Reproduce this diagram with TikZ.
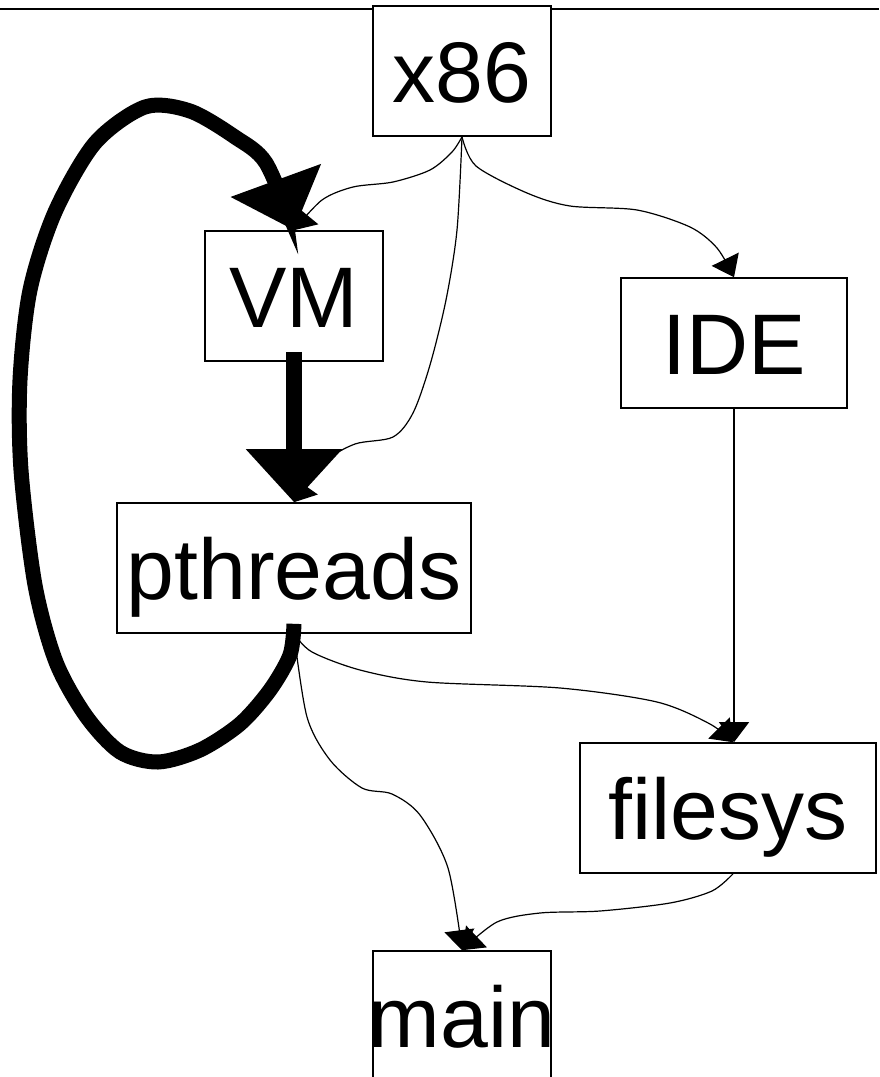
\documentclass[tikz,border=0pt]{standalone}
\usepackage{fontspec}
\setmainfont{Liberation Sans}
\usetikzlibrary{arrows.meta}
\begin{document}
\begin{tikzpicture}[x=1pt,y=-1pt,
  box/.style={draw, line width=1.6pt, fill=white, rectangle, inner sep=0pt,
    minimum height=130pt, text height=62pt, text depth=0pt,
    font=\fontsize{86}{90}\selectfont},
  edge/.style={line width=1.2pt, -{Triangle[length=20pt,width=30pt]}},
  heavyedge/.style={line width=16pt, -{Triangle[length=53pt,width=93pt]}}]
\useasboundingbox (0,0) rectangle (879,1077);
\clip (0,0) rectangle (879,1077);
\draw[line width=2pt] (0,9) -- (879,9);
\node[box, minimum width=178pt] (x86) at (462,71) {x86};
\node[box, minimum width=178pt] (VM) at (294,296) {VM};
\node[box, minimum width=226pt] (IDE) at (734,343) {IDE};
\node[box, minimum width=354pt] (pthreads) at (294,568) {pthreads};
\node[box, minimum width=296pt] (filesys) at (728,808) {filesys};
\node[box, minimum width=178pt] (main) at (462,1016) {\makebox[0pt]{main}};
% thin edges
\draw[edge] plot[smooth] coordinates {(x86.south) (452,152) (430,170) (393,182) (353,187) (322,200) (VM.north)};
\draw[edge] plot[smooth] coordinates {(x86.south) (457,230) (446,300) (430,365) (413,413) (393,437) (355,444) (325,462) (pthreads.north)};
\draw[edge] plot[smooth] coordinates {(x86.south) (476,166) (527,193) (570,206) (637,210) (690,227) (717,248) (IDE.north)};
\draw[edge] (IDE.south) -- (IDE.south |- filesys.north);
\draw[edge] plot[smooth] coordinates {(pthreads.south) (312,652) (360,670) (427,682) (560,688) (657,702) (710,724) ([xshift=5pt]filesys.north)};
\draw[edge] plot[smooth] coordinates {(pthreads.south) (307,717) (330,760) (362,788) (392,794) (420,815) (448,868) (main.north)};
\draw[edge] plot[smooth] coordinates {([xshift=5pt]filesys.south) (712,891) (670,903) (600,911) (540,913) (497,922) (main.north)};
% heavy edges
\draw[heavyedge] ([yshift=10pt]VM.south) -- (pthreads.north);
\draw[heavyedge, line width=15pt] plot[smooth] coordinates {([yshift=10pt]pthreads.south) (290,655) (270,690) (240,724) (200,750) (158,762) (120,752) (86,716) (56,662) (35,585) (21,470) (20,380) (30,290) (55,212) (95,143) (145,107) (190,111) (235,137) (266,163) (VM.north)};
\end{tikzpicture}
\end{document}
